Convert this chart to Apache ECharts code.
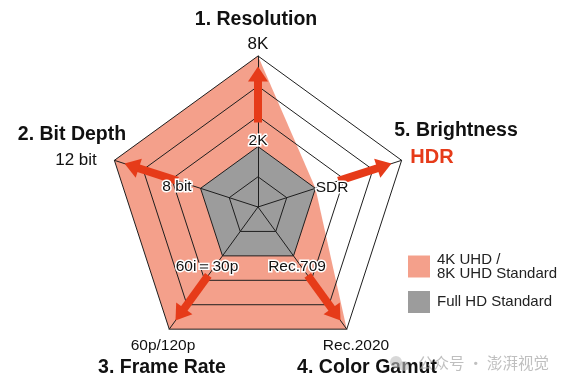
<!DOCTYPE html>
<html>
<head>
<meta charset="utf-8">
<script src="https://cdn.jsdelivr.net/npm/echarts@6/dist/echarts.min.js"></script>
<style>html,body{margin:0;padding:0;background:#fff}#c{width:568px;height:388px}</style>
</head>
<body>
<div id="c"></div>
<script>
// ---- data ----
const indicators = ['1. Resolution', '2. Bit Depth', '3. Frame Rate', '4. Color Gamut', '5. Brightness'];
const seriesNames = ['4K UHD /\n8K UHD Standard', 'Full HD Standard'];
const uhdValues = [5, 5, 5, 5, 2];
const fhdValues = [2, 2, 2, 2, 2];
const highLabels = ['8K', '12 bit', '60p/120p', 'Rec.2020', 'HDR'];
const lowLabels = ['2K', '8 bit', '60i＝30p', 'Rec.709', 'SDR'];
const arrowStart = [2.8, 2.8, 2.8, 2.8, 2.8];
const arrowHead = [4.4, 4.4, 4.4, 4.4, 4.4];
const maxValue = 5;

// ---- style ----
const SALMON = '#f4a08b', GRAY = '#9c9c9c', RED = '#e63b19', LINE = '#1e1e1e';
const FONT = "'Liberation Sans', Arial, Helvetica, sans-serif";
const CX = 258, CY = 207, R = 151;

const chart = echarts.init(document.getElementById('c'), null, {renderer: 'canvas'});

const arrowSeries = indicators.map((n, i) => {
  const ang = 90 + 72 * i;
  return {
    type: 'line', coordinateSystem: 'polar', silent: true, z: 4,
    lineStyle: {color: RED, width: 8, cap: 'butt'},
    itemStyle: {color: RED},
    data: [
      {value: [arrowStart[i], ang], symbol: 'none'},
      {value: [arrowHead[i], ang], symbol: 'triangle', symbolSize: [20, 15], symbolRotate: ang - 90}
    ]
  };
});

// label positions (text annotation placement)
const titlePos = [[256, 20], [72, 135], [162, 368], [367, 368], [456, 131]];
const highPos = [[258, 44], [76, 160], [163, 346], [356, 346], [432, 157]];
const lowPos = [[258, 141], [177, 187], [207, 267], [297, 267], [332, 188]];

const graphics = [];
indicators.forEach((n, i) => {
  graphics.push({type: 'text', x: titlePos[i][0], y: titlePos[i][1], z: 10,
    style: {text: n, textAlign: 'center', textVerticalAlign: 'middle', font: 'bold 19.5px ' + FONT, fill: '#111'}});
  const isHDR = i === 4;
  graphics.push({type: 'text', x: highPos[i][0], y: highPos[i][1], z: 10,
    style: {text: highLabels[i], textAlign: 'center', textVerticalAlign: 'middle',
      font: isHDR ? 'bold 20px ' + FONT : (i >= 2 ? '15.5px ' : '17px ') + FONT,
      fill: isHDR ? RED : '#111'}});
  graphics.push({type: 'text', x: lowPos[i][0], y: lowPos[i][1], z: 10,
    style: {text: lowLabels[i], textAlign: 'center', textVerticalAlign: 'middle',
      font: '15.5px ' + FONT, fill: '#111', stroke: '#fff', lineWidth: 3}});
});
// watermark
graphics.push({type: 'circle', shape: {cx: 396, cy: 362, r: 6}, style: {fill: 'rgba(190,190,190,0.6)'}, z: 11});
graphics.push({type: 'circle', shape: {cx: 404, cy: 366, r: 5}, style: {fill: 'rgba(190,190,190,0.6)'}, z: 11});
graphics.push({type: 'text', x: 418, y: 363, z: 11,
  style: {text: '公众号 · 澎湃视觉', textAlign: 'left', textVerticalAlign: 'middle',
    font: "15.5px 'Noto Sans CJK SC', sans-serif", fill: 'rgba(170,170,170,0.75)'}});

chart.setOption({
  animation: false,
  backgroundColor: '#fff',
  legend: {
    orient: 'vertical', left: 408, top: 252, padding: 0, itemWidth: 22, itemHeight: 22, itemGap: 10,
    icon: 'rect', selectedMode: false,
    data: seriesNames,
    textStyle: {fontSize: 15, lineHeight: 14, color: '#222', fontFamily: FONT, padding: [0, 0, 0, 2]}
  },
  radar: {
    center: [CX, CY], radius: R, startAngle: 90, splitNumber: 5, shape: 'polygon', z: 3,
    indicator: indicators.map(n => ({name: n, max: maxValue, min: 0})),
    axisName: {show: false},
    axisLine: {lineStyle: {color: LINE, width: 1}},
    splitLine: {lineStyle: {color: LINE, width: 1}},
    splitArea: {show: false}
  },
  polar: {center: [CX, CY], radius: R},
  angleAxis: {type: 'value', min: 0, max: 360, startAngle: 0, clockwise: false, show: false},
  radiusAxis: {type: 'value', min: 0, max: maxValue, show: false},
  series: [
    {
      type: 'radar', z: 1, silent: true, symbol: 'none',
      data: [
        {name: seriesNames[0], value: uhdValues, itemStyle: {color: SALMON},
          lineStyle: {width: 0, color: SALMON}, areaStyle: {color: SALMON, opacity: 1}},
        {name: seriesNames[1], value: fhdValues, itemStyle: {color: GRAY},
          lineStyle: {width: 0, color: GRAY}, areaStyle: {color: GRAY, opacity: 1}}
      ]
    }
  ].concat(arrowSeries),
  graphic: graphics
});
</script>
</body>
</html>
